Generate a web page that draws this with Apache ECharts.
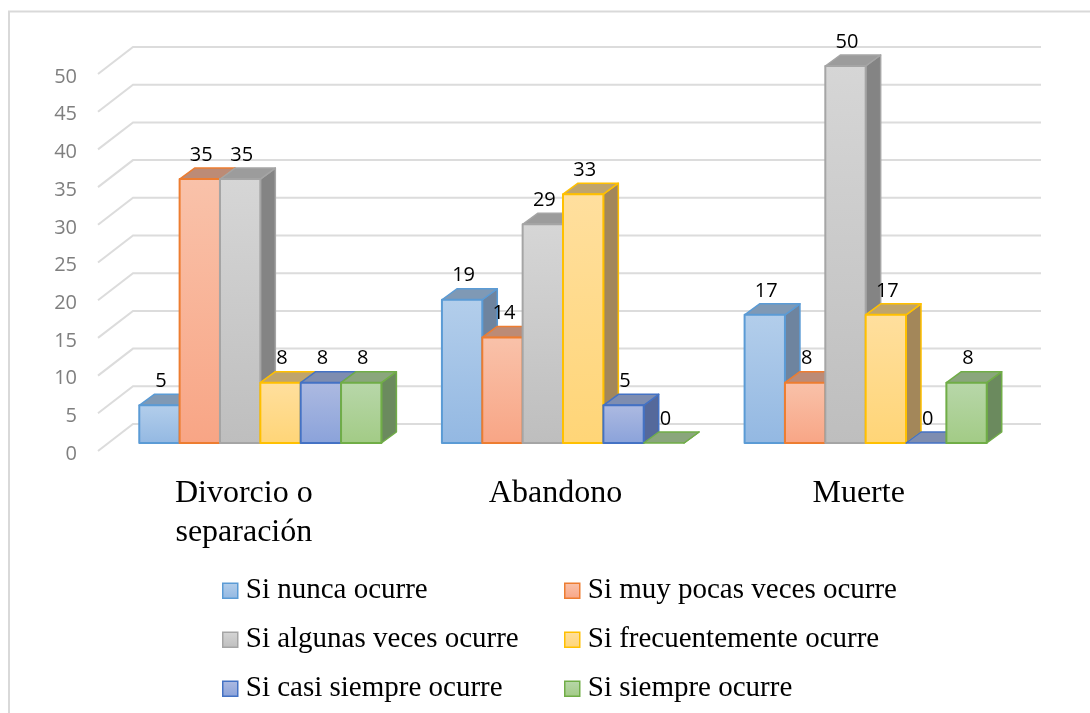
<!DOCTYPE html>
<html><head><meta charset="utf-8">
<script src="https://cdn.jsdelivr.net/npm/echarts@6/dist/echarts.min.js"></script>
<style>html,body{margin:0;padding:0;background:#fff}#c{width:1090px;height:713px}</style>
</head><body><div id="c"></div>
<script>
const categories = ['Divorcio o\nseparación', 'Abandono', 'Muerte'];
const yTicks = [0,5,10,15,20,25,30,35,40,45,50];
const seriesNames = ['Si nunca ocurre','Si muy pocas veces ocurre','Si algunas veces ocurre','Si frecuentemente ocurre','Si casi siempre ocurre','Si siempre ocurre'];
const nunca = [5,19,17];
const muyPocas = [35,14,8];
const algunas = [35,29,50];
const frecuente = [8,33,17];
const casiSiempre = [8,5,0];
const siempre = [8,0,8];
const allValues = [nunca,muyPocas,algunas,frecuente,casiSiempre,siempre];
const palette = [
 {stroke:'#5B9BD5',a:'#B3CEEB',b:'#93B8E2',top:'#7F99B5',side:'#6E849F'},
 {stroke:'#ED7D31',a:'#F9C2AA',b:'#F8A585',top:'#BC8B76',side:'#A9775F'},
 {stroke:'#A5A5A5',a:'#D6D6D6',b:'#BEBEBE',top:'#9C9C9C',side:'#848484'},
 {stroke:'#FFC000',a:'#FFDF9E',b:'#FFD577',top:'#BFA46C',side:'#A3875A'},
 {stroke:'#4472C4',a:'#ADBAE1',b:'#8AA2DA',top:'#7E8DB0',side:'#55699B'},
 {stroke:'#70AD47',a:'#B8D7AA',b:'#A2CB85',top:'#8AA67C',side:'#6B8A5E'}
];
const serif = '"Liberation Serif","Times New Roman",serif';
const sans = '"Open Sans","Noto Sans",sans-serif';
const wallDx = 35, wallDy = 27, barInsetX = 11, barInsetY = 8, depthX = 15, depthY = 11;
const categoryPadding = [[0,11,0,0],[0,0,0,7],[0,0,0,8]];

function wallItem(params, api){
  const v = api.value(0);
  const cs = params.coordSys;
  const y = api.coord([0, v])[1];
  return {type:'polyline', silent:true,
    shape:{points:[[cs.x,y],[cs.x+wallDx,y-wallDy],[cs.x+cs.width+wallDx,y-wallDy]]},
    style:{stroke:'#DCDCDC',lineWidth:2,fill:null}};
}
function barItem(si){
  return function(params, api){
    const ci = api.value(0), v = api.value(1);
    const band = api.size([1,0])[0];
    const w = band/7.5;
    const cx = api.coord([ci,0])[0] + barInsetX;
    const x0 = cx - 3*w + si*w, x1 = x0 + w;
    const yb = api.coord([ci,0])[1] - barInsetY;
    const yt = api.coord([ci,v])[1] - barInsetY;
    const p = palette[si];
    const edge = {stroke:p.stroke,lineWidth:1.5,lineJoin:'round'};
    const children = [
      {type:'polygon',shape:{points:[[x1,yb],[x1+depthX,yb-depthY],[x1+depthX,yt-depthY],[x1,yt]]},style:Object.assign({fill:p.side},edge)},
      {type:'polygon',shape:{points:[[x0,yt],[x0+depthX,yt-depthY],[x1+depthX,yt-depthY],[x1,yt]]},style:Object.assign({fill:p.top},edge)}
    ];
    if (v > 0) children.push({type:'rect',shape:{x:x0,y:yt,width:w,height:yb-yt},
      style:{fill:{type:'linear',x:0,y:0,x2:0,y2:1,colorStops:[{offset:0,color:p.a},{offset:1,color:p.b}]},stroke:p.stroke,lineWidth:2,lineJoin:'round'}});
    children.push({type:'text',style:{text:String(v),x:(x0+x1)/2+1.5,y:yt-24,align:'center',verticalAlign:'middle',fill:'#000',font:'20px '+sans}});
    return {type:'group',children};
  };
}
function legendData(idx){
  return idx.map(i=>({name:seriesNames[i],itemStyle:{
    color:{type:'linear',x:0,y:0,x2:0,y2:1,colorStops:[{offset:0,color:palette[i].a},{offset:1,color:palette[i].b}]},
    borderColor:palette[i].stroke,borderWidth:1.5}}));
}
const legendBase = {orient:'vertical',top:574,itemWidth:15,itemHeight:15,itemGap:15.5,icon:'rect',selectedMode:false,padding:0,
  textStyle:{fontFamily:serif,fontSize:29,color:'#000',lineHeight:33.5,padding:[0,0,0,3]}};
const chart = echarts.init(document.getElementById('c'));
chart.setOption({
  animation:false,
  backgroundColor:'#fff',
  graphic:[{type:'polyline',silent:true,z:-10,shape:{points:[[9,713],[9,11.5],[1090,11.5]]},style:{fill:null,stroke:'#D9D9D9',lineWidth:2}}],
  grid:{left:98,top:74,width:908,height:377},
  xAxis:{type:'category',data:categories.map((c,i)=>({value:c,textStyle:{padding:categoryPadding[i]}})),
    axisLine:{show:false},axisTick:{show:false},
    axisLabel:{interval:0,margin:23,fontFamily:serif,fontSize:32,color:'#000',lineHeight:39}},
  yAxis:{type:'value',min:0,max:50,interval:5,splitLine:{show:false},axisLine:{show:false},axisTick:{show:false},
    axisLabel:{margin:21,fontFamily:sans,fontSize:20,color:'#7F7F7F',verticalAlign:'top',lineHeight:6,showMinLabel:true,showMaxLabel:true}},
  legend:[
    Object.assign({},legendBase,{left:222,data:legendData([0,2,4])}),
    Object.assign({},legendBase,{left:564,data:legendData([1,3,5])})
  ],
  series:[
    {type:'custom',name:'walls',silent:true,renderItem:wallItem,data:yTicks.map(v=>[v]),encode:{y:0},z:1,legendHoverLink:false}
  ].concat(allValues.map((vals,si)=>({
    type:'custom',name:seriesNames[si],renderItem:barItem(si),z:2+si,
    encode:{x:0,y:1},data:vals.map((v,ci)=>[ci,v])
  })))
});
</script></body></html>
